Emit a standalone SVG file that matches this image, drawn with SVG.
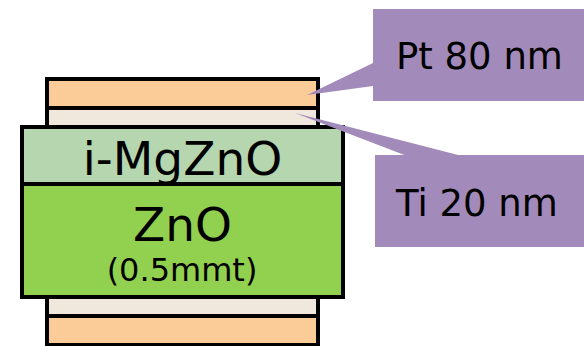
<svg xmlns="http://www.w3.org/2000/svg" width="584" height="346" viewBox="0 0 584 346">
<style>
.layer{stroke:#000;stroke-width:4}
.pt{fill:#FBCB98}
.ti{fill:#F1E8DD}
.mg{fill:#B5D6AE}
.zn{fill:#92D150}
.co{fill:#A28ABA}
.big{font-family:"DejaVu Sans",Verdana,sans-serif;font-size:47px;fill:#000;text-anchor:middle}
.small{font-family:"DejaVu Sans",Verdana,sans-serif;font-size:32px;fill:#000;text-anchor:middle}
.lbl{font-family:"DejaVu Sans",Verdana,sans-serif;font-size:37px;fill:#000}
</style>
<rect width="584" height="346" fill="#fff"/>
<g id="bottom-ti"><rect class="layer ti" x="47" y="297" width="271" height="19"/></g>
<g id="bottom-pt"><rect class="layer pt" x="47" y="316" width="271" height="29"/></g>
<g id="top-pt"><rect class="layer pt" x="47" y="79" width="271" height="29"/></g>
<g id="top-ti"><rect class="layer ti" x="47" y="108" width="271" height="19"/></g>
<g id="i-mgzno"><rect class="layer mg" x="22" y="127" width="321" height="57"/><text class="big" x="182.5" y="175">i-MgZnO</text></g>
<g id="zno"><rect class="layer zn" x="22" y="184" width="321" height="113"/><text class="big" x="182.5" y="241">ZnO</text><text class="small" x="182" y="281">(0.5mmt)</text></g>
<g id="connectors">
<polygon class="co" points="373,63 373,86 307,95"/>
<polygon class="co" points="407,156 462,156 295,113"/>
</g>
<g id="pt-label"><rect class="co" x="373" y="9" width="211" height="92"/><text class="lbl" x="396" y="69">Pt 80 nm</text></g>
<g id="ti-label"><rect class="co" x="375" y="155" width="209" height="92"/><text class="lbl" x="396" y="216">Ti 20 nm</text></g>
</svg>
